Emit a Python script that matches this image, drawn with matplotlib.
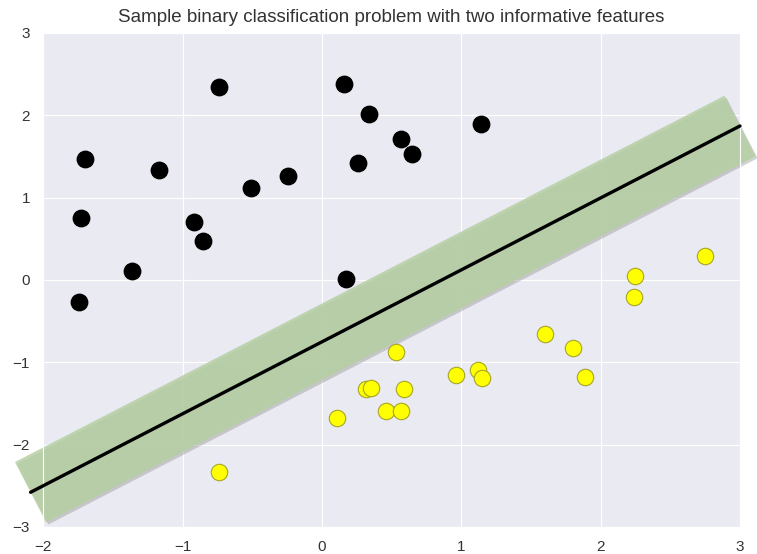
import numpy as np
import matplotlib
matplotlib.use("Agg")
import matplotlib.pyplot as plt
import matplotlib.patheffects as pe
import seaborn as sns

# class 0 (black) points
x_black = [-1.70, -1.73, -1.74, -1.36, -1.17, -0.92, -0.85, -0.74, -0.51, -0.24,
           0.16, 0.34, 0.26, 0.57, 0.65, 1.14, 0.17]
y_black = [1.47, 0.75, -0.27, 0.11, 1.33, 0.70, 0.47, 2.34, 1.12, 1.26,
           2.38, 2.01, 1.42, 1.71, 1.53, 1.90, 0.01]

# class 1 (yellow) points
x_yellow = [0.53, 0.11, 0.32, 0.355, 0.59, 0.457, 0.57, 0.96, 1.12, 1.15,
            1.60, 1.80, 1.89, -0.74, 2.25, 2.24, 2.75]
y_yellow = [-0.87, -1.68, -1.32, -1.31, -1.32, -1.59, -1.59, -1.15, -1.10, -1.19,
            -0.66, -0.83, -1.18, -2.33, 0.05, -0.21, 0.29]

# separating line end points
line_x = [-2.09, 3.0]
line_y = [-2.58, 1.87]

sns.set_style("darkgrid")
plt.rcParams['font.family'] = ['Liberation Sans', 'DejaVu Sans']

fig = plt.figure(figsize=(7.57, 5.54), dpi=100)
ax = fig.add_axes([0.057, 0.049, 0.9205, 0.8915])

# margin band with a soft shadow
ax.plot(line_x, line_y, color=(0.71, 0.81, 0.64), alpha=0.85, linewidth=49,
        solid_capstyle='butt', clip_on=False, zorder=2,
        path_effects=[pe.SimpleLineShadow(offset=(1.5, -1.5), shadow_color='gray', alpha=0.35),
                      pe.Normal()])
ax.plot(line_x, line_y, '-k', linewidth=2.4, clip_on=False, zorder=3)

ax.scatter(x_black, y_black, s=140, c='black', zorder=4)
ax.scatter(x_yellow, y_yellow, s=140, c='yellow', edgecolors=(0.65, 0.65, 0.15),
           linewidths=0.8, zorder=4)

ax.set_xlim(-2, 3)
ax.set_ylim(-3, 3)
ax.set_xticks([-2, -1, 0, 1, 2, 3])
ax.set_yticks([-3, -2, -1, 0, 1, 2, 3])
ax.tick_params(labelsize=11, colors='#333333', pad=6)
ax.set_title("Sample binary classification problem with two informative features",
             fontsize=13.5, color='#333333', pad=8)

fig.savefig("out.png", dpi=100)
